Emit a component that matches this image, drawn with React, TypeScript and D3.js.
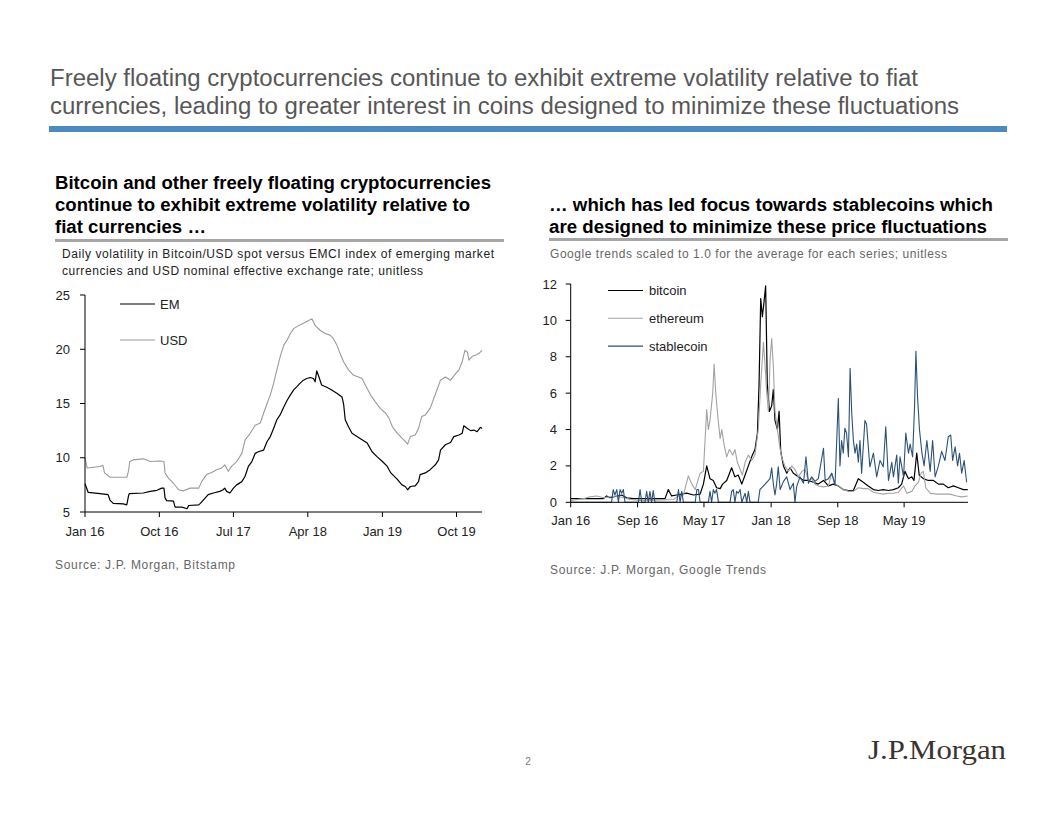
import React from 'react';
import * as d3 from 'd3';

const parse = d3.timeParse('%Y-%m-%d');

// ---- Left chart: daily volatility of Bitcoin/USD vs EM and USD (unitless)
const emSeries: [string, number][] = [
  ['2016-01-01', 7.6], ['2016-01-13', 6.8], ['2016-02-25', 6.7], ['2016-03-26', 6.6], ['2016-04-02', 6.1],
  ['2016-04-14', 5.8], ['2016-05-21', 5.75], ['2016-06-03', 5.65], ['2016-06-09', 6.45], ['2016-06-12', 6.7],
  ['2016-08-03', 6.75], ['2016-08-28', 6.9], ['2016-09-22', 7.0], ['2016-10-10', 7.2], ['2016-10-18', 7.2],
  ['2016-10-22', 6.3], ['2016-10-28', 6.05], ['2016-11-22', 6.0], ['2016-11-28', 5.45], ['2016-12-23', 5.45],
  ['2017-01-11', 5.3], ['2017-01-17', 5.6], ['2017-02-23', 5.65], ['2017-03-01', 5.8], ['2017-03-12', 6.1],
  ['2017-03-30', 6.6], ['2017-04-18', 6.75], ['2017-05-12', 6.9], ['2017-05-24', 7.05], ['2017-05-30', 7.2],
  ['2017-06-06', 6.9], ['2017-06-18', 6.75], ['2017-07-01', 7.2], ['2017-07-13', 7.5], ['2017-08-01', 7.8],
  ['2017-08-13', 8.3], ['2017-08-25', 9.2], ['2017-09-07', 9.65], ['2017-09-19', 10.4], ['2017-10-01', 10.55],
  ['2017-10-20', 10.7], ['2017-11-02', 11.5], ['2017-11-14', 11.95], ['2017-11-26', 12.7], ['2017-12-08', 13.5],
  ['2017-12-20', 13.95], ['2018-01-03', 14.7], ['2018-01-15', 15.3], ['2018-01-27', 15.8], ['2018-02-08', 16.25],
  ['2018-02-20', 16.55], ['2018-03-03', 16.85], ['2018-03-16', 17.15], ['2018-03-28', 17.3], ['2018-04-10', 17.4],
  ['2018-04-22', 17.3], ['2018-04-28', 17.0], ['2018-05-04', 18.0], ['2018-05-10', 17.6], ['2018-05-22', 16.7],
  ['2018-06-10', 16.5], ['2018-06-28', 16.25], ['2018-07-17', 15.95], ['2018-08-05', 15.6], ['2018-08-11', 14.95],
  ['2018-08-17', 13.5], ['2018-08-29', 12.85], ['2018-09-11', 12.25], ['2018-09-29', 11.95], ['2018-10-18', 11.65],
  ['2018-11-06', 11.35], ['2018-11-24', 10.55], ['2018-12-12', 10.1], ['2019-01-01', 9.65], ['2019-01-19', 9.2],
  ['2019-02-01', 8.6], ['2019-02-13', 8.3], ['2019-02-25', 8.0], ['2019-03-14', 7.5], ['2019-03-26', 7.35],
  ['2019-04-04', 7.05], ['2019-04-14', 7.35], ['2019-05-02', 7.4], ['2019-05-14', 7.8], ['2019-05-20', 8.45],
  ['2019-06-08', 8.6], ['2019-06-26', 8.9], ['2019-07-15', 9.35], ['2019-07-27', 9.8], ['2019-08-03', 10.7],
  ['2019-08-21', 11.2], ['2019-09-09', 11.4], ['2019-09-21', 11.95], ['2019-10-10', 12.1], ['2019-10-22', 12.25],
  ['2019-10-28', 12.95], ['2019-11-10', 12.7], ['2019-11-22', 12.5], ['2019-12-04', 12.55], ['2019-12-16', 12.4],
  ['2019-12-28', 12.8], ['2020-01-03', 12.7],
];

const usdSeries: [string, number][] = [
  ['2016-01-01', 10.0], ['2016-01-09', 9.05], ['2016-02-25', 9.2], ['2016-03-07', 9.3], ['2016-03-13', 8.6],
  ['2016-04-02', 8.2], ['2016-06-03', 8.2], ['2016-06-09', 8.75], ['2016-06-14', 9.65], ['2016-06-26', 9.8],
  ['2016-08-03', 9.9], ['2016-08-28', 9.65], ['2016-10-04', 9.7], ['2016-10-18', 9.65], ['2016-10-22', 8.6],
  ['2016-11-04', 8.1], ['2016-11-22', 7.65], ['2016-12-11', 7.05], ['2016-12-29', 6.95], ['2017-01-23', 7.2],
  ['2017-02-23', 7.2], ['2017-03-06', 7.8], ['2017-03-24', 8.45], ['2017-04-12', 8.65], ['2017-04-30', 8.9],
  ['2017-05-18', 9.05], ['2017-05-30', 9.35], ['2017-06-12', 8.75], ['2017-06-24', 9.2], ['2017-07-13', 9.65],
  ['2017-08-01', 10.4], ['2017-08-13', 11.65], ['2017-09-01', 12.25], ['2017-09-19', 13.0], ['2017-10-08', 13.2],
  ['2017-10-20', 14.1], ['2017-11-02', 15.0], ['2017-11-14', 15.8], ['2017-11-26', 16.85], ['2017-12-08', 18.1],
  ['2017-12-20', 19.3], ['2018-01-03', 20.4], ['2018-01-15', 20.85], ['2018-01-27', 21.45], ['2018-02-08', 21.9],
  ['2018-02-27', 22.2], ['2018-03-16', 22.4], ['2018-04-04', 22.65], ['2018-04-16', 22.8], ['2018-04-28', 22.2],
  ['2018-05-16', 21.75], ['2018-06-04', 21.45], ['2018-06-22', 21.3], ['2018-07-04', 21.0], ['2018-07-17', 20.4],
  ['2018-07-29', 19.6], ['2018-08-11', 18.85], ['2018-08-29', 18.1], ['2018-09-17', 17.6], ['2018-10-05', 17.45],
  ['2018-10-18', 17.3], ['2018-10-30', 16.7], ['2018-11-18', 15.8], ['2018-12-06', 15.15], ['2018-12-24', 14.55],
  ['2019-01-13', 14.1], ['2019-01-25', 13.65], ['2019-02-07', 12.85], ['2019-02-25', 12.25], ['2019-03-14', 11.8],
  ['2019-03-26', 11.5], ['2019-04-04', 11.25], ['2019-04-14', 11.95], ['2019-05-02', 12.1], ['2019-05-14', 12.7],
  ['2019-05-26', 13.8], ['2019-06-08', 13.95], ['2019-06-26', 14.55], ['2019-07-09', 15.45], ['2019-07-21', 16.25],
  ['2019-08-03', 17.15], ['2019-08-21', 17.45], ['2019-09-09', 17.15], ['2019-09-28', 17.75], ['2019-10-10', 18.1],
  ['2019-10-22', 18.85], ['2019-11-01', 19.9], ['2019-11-10', 19.75], ['2019-11-16', 19.0], ['2019-11-28', 19.35],
  ['2019-12-10', 19.45], ['2019-12-22', 19.6], ['2020-01-03', 19.9],
];

// ---- Right chart: Google trends scaled to 1.0 average
const bitcoinSeries: [string, number][] = [
  ['2016-01-01', 0.2], ['2016-04-29', 0.2], ['2016-05-11', 0.35], ['2016-05-23', 0.25], ['2016-07-05', 0.4],
  ['2016-07-23', 0.25], ['2016-08-17', 0.2], ['2016-12-10', 0.2], ['2016-12-22', 0.7], ['2017-01-03', 0.35],
  ['2017-01-22', 0.4], ['2017-02-27', 0.5], ['2017-03-24', 0.4], ['2017-04-17', 0.45], ['2017-04-29', 1.0],
  ['2017-05-11', 2.0], ['2017-05-23', 1.3], ['2017-06-04', 1.2], ['2017-06-16', 0.8], ['2017-06-29', 0.75],
  ['2017-07-08', 1.0], ['2017-07-23', 1.2], ['2017-08-10', 1.9], ['2017-08-22', 1.4], ['2017-09-03', 1.5],
  ['2017-09-16', 1.0], ['2017-09-28', 1.5], ['2017-10-10', 2.0], ['2017-10-22', 2.5], ['2017-11-03', 2.9],
  ['2017-11-12', 3.8], ['2017-11-18', 6.5], ['2017-11-24', 11.2], ['2017-11-30', 10.2], ['2017-12-06', 11.0],
  ['2017-12-12', 11.9], ['2017-12-18', 6.5], ['2017-12-26', 5.0], ['2018-01-03', 5.3], ['2018-01-09', 6.2],
  ['2018-01-15', 4.5], ['2018-01-24', 4.0], ['2018-01-30', 5.0], ['2018-02-05', 2.8], ['2018-02-15', 2.0],
  ['2018-02-27', 1.6], ['2018-03-11', 1.9], ['2018-03-23', 1.6], ['2018-04-10', 1.4], ['2018-04-29', 1.2],
  ['2018-05-17', 1.2], ['2018-06-04', 1.1], ['2018-06-22', 1.0], ['2018-07-11', 1.2], ['2018-07-29', 0.9],
  ['2018-08-16', 1.0], ['2018-09-03', 0.9], ['2018-09-21', 0.7], ['2018-10-10', 0.65], ['2018-10-28', 0.65],
  ['2018-11-15', 1.3], ['2018-12-03', 1.1], ['2018-12-21', 0.9], ['2019-01-09', 0.7], ['2019-01-27', 0.65],
  ['2019-02-14', 0.7], ['2019-03-05', 0.65], ['2019-03-23', 0.7], ['2019-04-10', 0.8], ['2019-04-22', 1.0],
  ['2019-05-04', 1.7], ['2019-05-17', 1.3], ['2019-05-29', 1.4], ['2019-06-06', 1.2], ['2019-06-16', 2.7],
  ['2019-06-25', 1.5], ['2019-07-10', 1.3], ['2019-07-28', 1.2], ['2019-08-16', 1.2], ['2019-09-03', 1.0],
  ['2019-09-21', 1.0], ['2019-10-09', 0.8], ['2019-10-28', 0.9], ['2019-11-15', 0.8], ['2019-12-03', 0.7],
  ['2019-12-19', 0.7],
];

const ethereumSeries: [string, number][] = [
  ['2016-01-01', 0.1], ['2016-02-16', 0.2], ['2016-03-11', 0.3], ['2016-04-05', 0.35], ['2016-04-29', 0.25],
  ['2016-05-23', 0.3], ['2016-06-17', 0.35], ['2016-07-11', 0.25], ['2016-08-04', 0.15], ['2016-09-10', 0.1],
  ['2016-11-10', 0.12], ['2017-01-09', 0.15], ['2017-01-22', 0.3], ['2017-02-15', 0.4], ['2017-03-05', 1.45],
  ['2017-03-18', 1.0], ['2017-03-30', 0.7], ['2017-04-17', 1.6], ['2017-04-29', 1.7], ['2017-05-11', 5.1],
  ['2017-05-17', 4.0], ['2017-05-23', 4.5], ['2017-06-02', 6.0], ['2017-06-07', 7.6], ['2017-06-13', 6.0],
  ['2017-06-20', 4.8], ['2017-06-29', 3.5], ['2017-07-05', 4.0], ['2017-07-13', 3.2], ['2017-07-23', 2.5],
  ['2017-08-02', 2.9], ['2017-08-14', 2.6], ['2017-08-22', 2.9], ['2017-08-31', 2.2], ['2017-09-10', 1.8],
  ['2017-09-18', 1.5], ['2017-09-28', 2.2], ['2017-10-10', 2.6], ['2017-10-22', 2.3], ['2017-11-03', 2.6],
  ['2017-11-15', 4.0], ['2017-11-24', 6.5], ['2017-12-04', 8.8], ['2017-12-10', 7.5], ['2017-12-16', 6.0],
  ['2017-12-22', 5.0], ['2017-12-28', 7.8], ['2018-01-03', 9.0], ['2018-01-09', 7.5], ['2018-01-15', 5.0],
  ['2018-01-24', 4.0], ['2018-01-31', 3.2], ['2018-02-08', 2.5], ['2018-02-20', 2.0], ['2018-03-05', 1.7],
  ['2018-03-17', 2.0], ['2018-03-29', 1.8], ['2018-04-10', 1.4], ['2018-04-23', 1.7], ['2018-05-05', 1.8],
  ['2018-05-17', 1.2], ['2018-05-29', 1.3], ['2018-06-10', 1.0], ['2018-06-22', 0.9], ['2018-07-11', 0.85],
  ['2018-07-29', 0.9], ['2018-08-10', 1.6], ['2018-08-22', 1.0], ['2018-09-03', 0.9], ['2018-09-21', 0.7],
  ['2018-10-10', 0.6], ['2018-10-28', 0.6], ['2018-11-15', 0.8], ['2018-12-03', 0.75], ['2018-12-21', 0.75],
  ['2019-01-09', 0.55], ['2019-01-27', 0.5], ['2019-02-14', 0.45], ['2019-03-05', 0.5], ['2019-03-23', 0.5],
  ['2019-04-10', 0.55], ['2019-04-29', 0.9], ['2019-05-11', 0.5], ['2019-05-29', 0.6], ['2019-06-10', 0.9],
  ['2019-06-22', 1.1], ['2019-07-02', 1.6], ['2019-07-10', 1.7], ['2019-07-19', 0.8], ['2019-08-04', 0.5],
  ['2019-08-28', 0.45], ['2019-09-21', 0.45], ['2019-10-15', 0.45], ['2019-11-09', 0.35], ['2019-11-27', 0.3],
  ['2019-12-19', 0.35],
];

const stablecoinSeries: [string, number][] = [
  ['2016-01-01', 0], ['2016-05-29', 0], ['2016-06-04', 0.7], ['2016-06-10', 0.4], ['2016-06-17', 0.7],
  ['2016-06-23', 0], ['2016-06-29', 0.7], ['2016-07-05', 0.5], ['2016-07-11', 0.7], ['2016-07-17', 0],
  ['2016-09-04', 0], ['2016-09-10', 0.7], ['2016-09-16', 0], ['2016-09-28', 0], ['2016-10-04', 0.6],
  ['2016-10-10', 0], ['2016-10-16', 0.6], ['2016-10-22', 0], ['2016-10-28', 0.65], ['2016-11-03', 0],
  ['2017-01-22', 0], ['2017-01-28', 0.7], ['2017-02-03', 0], ['2017-02-09', 0.6], ['2017-02-15', 0],
  ['2017-03-30', 0], ['2017-04-05', 0.7], ['2017-04-11', 0.7], ['2017-04-17', 0], ['2017-05-17', 0],
  ['2017-05-23', 0.6], ['2017-05-29', 0], ['2017-06-04', 0.7], ['2017-06-10', 0.5], ['2017-06-16', 0.7],
  ['2017-06-23', 0], ['2017-08-04', 0], ['2017-08-10', 0.6], ['2017-08-16', 0.7], ['2017-08-22', 0],
  ['2017-08-28', 0.6], ['2017-09-03', 0.5], ['2017-09-10', 0.7], ['2017-09-16', 0], ['2017-09-28', 0.5],
  ['2017-10-04', 0], ['2017-10-10', 0.6], ['2017-10-16', 0], ['2017-11-15', 0], ['2017-11-21', 0.7],
  ['2017-12-04', 0.9], ['2017-12-16', 1.1], ['2017-12-28', 1.3], ['2018-01-03', 1.9], ['2018-01-09', 1.0],
  ['2018-01-15', 0.4], ['2018-01-21', 1.0], ['2018-01-27', 1.95], ['2018-02-03', 0.7], ['2018-02-15', 1.15],
  ['2018-02-27', 1.4], ['2018-03-11', 0.7], ['2018-03-23', 1.05], ['2018-03-29', 0], ['2018-04-04', 0.85],
  ['2018-04-16', 1.4], ['2018-04-29', 1.05], ['2018-05-08', 2.5], ['2018-05-17', 1.05], ['2018-05-29', 1.4],
  ['2018-06-10', 1.15], ['2018-06-22', 1.3], ['2018-07-11', 2.97], ['2018-07-17', 1.2], ['2018-07-29', 1.3],
  ['2018-08-10', 1.6], ['2018-08-22', 0.95], ['2018-09-03', 5.7], ['2018-09-09', 2.0], ['2018-09-15', 3.4],
  ['2018-09-21', 2.7], ['2018-09-27', 4.07], ['2018-10-03', 3.8], ['2018-10-10', 2.5], ['2018-10-16', 7.37],
  ['2018-10-22', 4.9], ['2018-10-28', 3.4], ['2018-11-03', 2.7], ['2018-11-09', 3.2], ['2018-11-15', 2.2],
  ['2018-11-21', 3.4], ['2018-11-27', 1.6], ['2018-12-09', 4.5], ['2018-12-15', 4.3], ['2018-12-27', 1.95],
  ['2019-01-09', 2.7], ['2019-01-21', 1.4], ['2019-02-02', 2.3], ['2019-02-14', 1.95], ['2019-02-23', 4.15],
  ['2019-03-05', 1.2], ['2019-03-17', 2.2], ['2019-03-23', 1.4], ['2019-04-04', 2.6], ['2019-04-10', 1.05],
  ['2019-04-16', 2.5], ['2019-04-29', 1.4], ['2019-05-07', 3.8], ['2019-05-17', 2.7], ['2019-05-23', 3.2],
  ['2019-06-01', 2.5], ['2019-06-08', 5.25], ['2019-06-13', 8.3], ['2019-06-19', 5.8], ['2019-06-26', 4.0],
  ['2019-07-05', 2.7], ['2019-07-13', 2.0], ['2019-07-23', 3.4], ['2019-08-04', 1.7], ['2019-08-13', 3.4],
  ['2019-08-22', 1.4], ['2019-09-03', 2.0], ['2019-09-15', 2.8], ['2019-09-27', 2.3], ['2019-10-09', 3.6],
  ['2019-10-18', 3.7], ['2019-10-25', 2.3], ['2019-11-03', 3.05], ['2019-11-12', 2.0], ['2019-11-19', 2.7],
  ['2019-11-27', 1.6], ['2019-12-06', 2.3], ['2019-12-15', 1.1],
];

const leftYTicks = [5, 10, 15, 20, 25];
const leftXTicks = ['2016-01-01', '2016-10-01', '2017-07-01', '2018-04-01', '2019-01-01', '2019-10-01'];
const rightYTicks = [0, 2, 4, 6, 8, 10, 12];
const rightXTicks = ['2016-01-01', '2016-09-01', '2017-05-01', '2018-01-01', '2018-09-01', '2019-05-01'];

const leftLegend = [
  { name: 'EM', color: '#000000', width: 1.2 },
  { name: 'USD', color: '#9a9a9a', width: 1.1 },
];
const rightLegend = [
  { name: 'bitcoin', color: '#000000', width: 1.2 },
  { name: 'ethereum', color: '#a3a3a3', width: 1.1 },
  { name: 'stablecoin', color: '#2c5176', width: 1.1 },
];

const SANS = '"Liberation Sans", Arial, Helvetica, sans-serif';
const fmt = d3.timeFormat('%b %y');

type Pt = { d: Date; v: number };
const toPts = (s: [string, number][]): Pt[] => s.map(([d, v]) => ({ d: parse(d) as Date, v }));

export default function App() {
  // left chart scales
  const lx = d3.scaleTime().domain([parse('2016-01-01') as Date, parse('2020-01-03') as Date]).range([85, 482]);
  const ly = d3.scaleLinear().domain([5, 25]).range([512, 295]);
  // right chart scales
  const rx = d3.scaleTime().domain([parse('2016-01-01') as Date, parse('2019-12-20') as Date]).range([570.7, 968]);
  const ry = d3.scaleLinear().domain([0, 12]).range([502.3, 284]);

  const lLine = d3.line<Pt>().x((p) => lx(p.d)).y((p) => ly(p.v));
  const rLine = d3.line<Pt>().x((p) => rx(p.d)).y((p) => ry(p.v));

  const leftData = [toPts(emSeries), toPts(usdSeries)];
  const rightData = [toPts(bitcoinSeries), toPts(ethereumSeries), toPts(stablecoinSeries)];

  const lx0 = lx.range()[0];
  const lyBottom = ly.range()[0];
  const rx0 = rx.range()[0];
  const ryBottom = ry.range()[0];

  return (
    <svg width={1056} height={816} style={{ position: 'absolute', left: 0, top: 0, background: '#fff' }} fontFamily={SANS}>
      <rect x={0} y={0} width={1056} height={816} fill="#fff" />
      {/* Main title */}
      <text x={50} y={86} fontSize={23} fill="#575757" textLength={868} lengthAdjust="spacingAndGlyphs">
        Freely floating cryptocurrencies continue to exhibit extreme volatility relative to fiat
      </text>
      <text x={50} y={114} fontSize={23} fill="#575757" textLength={909} lengthAdjust="spacingAndGlyphs">
        currencies, leading to greater interest in coins designed to minimize these fluctuations
      </text>
      <rect x={49} y={126} width={958} height={6} fill="#4a8ac0" />

      {/* Headings */}
      <g fontWeight="bold" fontSize={18} fill="#000">
        <text x={55} y={189} textLength={436} lengthAdjust="spacingAndGlyphs">Bitcoin and other freely floating cryptocurrencies</text>
        <text x={55} y={211} textLength={415} lengthAdjust="spacingAndGlyphs">continue to exhibit extreme volatility relative to</text>
        <text x={55} y={233} textLength={151} lengthAdjust="spacingAndGlyphs">fiat currencies …</text>
        <text x={549} y={211} textLength={444} lengthAdjust="spacingAndGlyphs">… which has led focus towards stablecoins which</text>
        <text x={549} y={233} textLength={438} lengthAdjust="spacingAndGlyphs">are designed to minimize these price fluctuations</text>
      </g>
      <rect x={55} y={239} width={449} height={3} fill="#a6a6a6" />
      <rect x={549} y={238} width={459} height={3} fill="#a6a6a6" />

      {/* Notes */}
      <g fontSize={12} fill="#222">
        <text x={62} y={258} textLength={432} lengthAdjust="spacing">Daily volatility in Bitcoin/USD spot versus EMCI index of emerging market</text>
        <text x={62} y={275} textLength={361} lengthAdjust="spacing">currencies and USD nominal effective exchange rate; unitless</text>
      </g>
      <text x={550} y={258} fontSize={12} fill="#666" textLength={397} lengthAdjust="spacing">
        Google trends scaled to 1.0 for the average for each series; unitless
      </text>

      {/* Left chart */}
      <g>
        {leftData.map((pts, i) => (
          <path key={i} d={lLine(pts) ?? ''} fill="none" stroke={leftLegend[i].color} strokeWidth={leftLegend[i].width} strokeLinejoin="round" />
        ))}
        <line x1={lx0} x2={lx0} y1={ly(25)} y2={lyBottom} stroke="#000" strokeWidth={1} />
        <line x1={lx0} x2={lx.range()[1]} y1={lyBottom} y2={lyBottom} stroke="#000" strokeWidth={1} />
        {leftYTicks.map((t) => (
          <g key={t}>
            <line x1={lx0 - 5} x2={lx0} y1={ly(t)} y2={ly(t)} stroke="#000" />
            <text x={70} y={ly(t)} dy="0.35em" textAnchor="end" fontSize={13} fill="#222">{t}</text>
          </g>
        ))}
        {leftXTicks.map((t) => {
          const d = parse(t) as Date;
          return (
            <g key={t}>
              <line x1={lx(d)} x2={lx(d)} y1={lyBottom} y2={lyBottom + 5} stroke="#000" />
              <text x={lx(d)} y={536} textAnchor="middle" fontSize={13} fill="#222">{fmt(d)}</text>
            </g>
          );
        })}
        {leftLegend.map((l, i) => (
          <g key={l.name}>
            <line x1={120} x2={155} y1={304 + i * 36} y2={304 + i * 36} stroke={l.color} strokeWidth={l.width} />
            <text x={160} y={304 + i * 36} dy="0.35em" fontSize={13} fill="#222">{l.name}</text>
          </g>
        ))}
      </g>

      {/* Right chart */}
      <g>
        {rightData.map((pts, i) => (
          <path key={i} d={rLine(pts) ?? ''} fill="none" stroke={rightLegend[i].color} strokeWidth={rightLegend[i].width} strokeLinejoin="round" />
        ))}
        <line x1={rx0} x2={rx0} y1={ry(12)} y2={ryBottom} stroke="#000" strokeWidth={1} />
        <line x1={rx0} x2={rx.range()[1]} y1={ryBottom} y2={ryBottom} stroke="#000" strokeWidth={1} />
        {rightYTicks.map((t) => (
          <g key={t}>
            <line x1={rx0 - 5} x2={rx0} y1={ry(t)} y2={ry(t)} stroke="#000" />
            <text x={557} y={ry(t)} dy="0.35em" textAnchor="end" fontSize={13} fill="#222">{t}</text>
          </g>
        ))}
        {rightXTicks.map((t) => {
          const d = parse(t) as Date;
          return (
            <g key={t}>
              <line x1={rx(d)} x2={rx(d)} y1={ryBottom} y2={ryBottom + 5} stroke="#000" />
              <text x={rx(d)} y={525} textAnchor="middle" fontSize={13} fill="#222">{fmt(d)}</text>
            </g>
          );
        })}
        {rightLegend.map((l, i) => (
          <g key={l.name}>
            <line x1={608} x2={643} y1={290.5 + i * 27.8} y2={290.5 + i * 27.8} stroke={l.color} strokeWidth={l.width} />
            <text x={649} y={290.5 + i * 27.8} dy="0.35em" fontSize={13} fill="#222">{l.name}</text>
          </g>
        ))}
      </g>

      {/* Sources */}
      <text x={55} y={569} fontSize={12} fill="#666" textLength={180} lengthAdjust="spacing">Source: J.P. Morgan, Bitstamp</text>
      <text x={550} y={574} fontSize={12} fill="#666" textLength={216} lengthAdjust="spacing">Source: J.P. Morgan, Google Trends</text>

      {/* Footer */}
      <text x={528} y={765} fontSize={10} fill="#777" textAnchor="middle">2</text>
      <text x={868} y={759} fontSize={27} fill="#3a3330" fontFamily='"Liberation Serif", "Times New Roman", serif' textLength={138} lengthAdjust="spacingAndGlyphs">
        J.P.Morgan
      </text>
    </svg>
  );
}
